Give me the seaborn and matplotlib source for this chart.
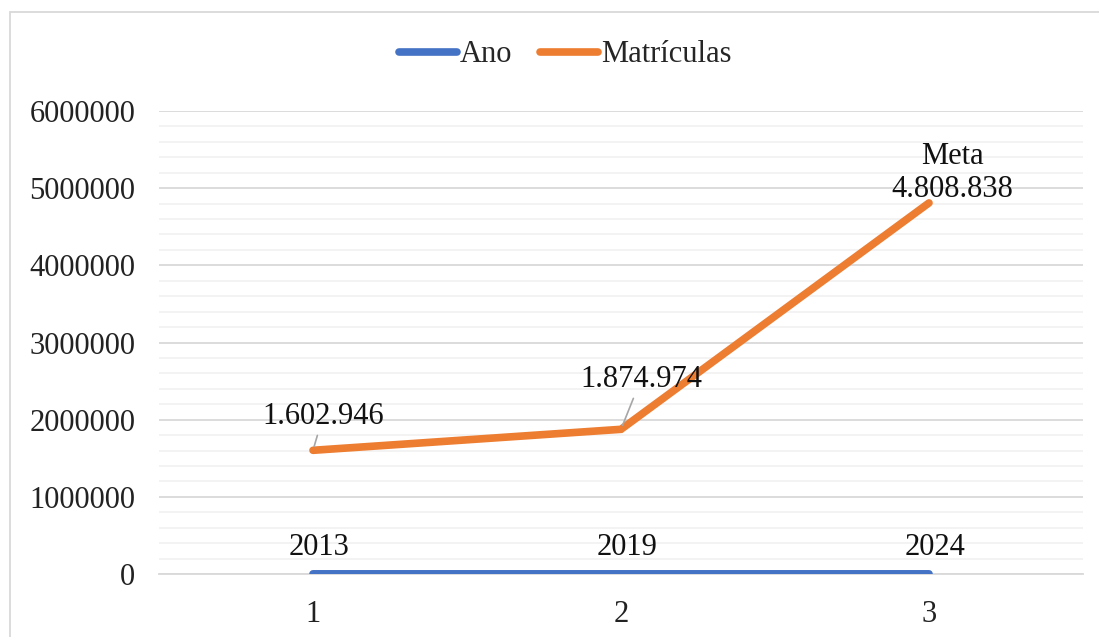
import numpy as np
import pandas as pd
import matplotlib
matplotlib.use("Agg")
import matplotlib.pyplot as plt
from matplotlib.lines import Line2D
from matplotlib.patches import Rectangle
from matplotlib.ticker import MultipleLocator, FuncFormatter
import seaborn as sns

sns.set_theme(style="white")
plt.rcParams['font.family'] = ['Liberation Serif', 'DejaVu Serif']

# dados
pontos = [1, 2, 3]
ano = [2013, 2019, 2024]
matriculas = [1602946, 1874974, 4808838]
rotulos_matriculas = ["1.602.946", "1.874.974", "Meta\n4.808.838"]
series = ["Ano", "Matrículas"]
cores = ["#4472C4", "#ED7D31"]

df = pd.DataFrame({
    "ponto": pontos * 2,
    "valor": ano + matriculas,
    "serie": [series[0]] * 3 + [series[1]] * 3,
})

FS = 22

fig = plt.figure(figsize=(10.99, 6.37), dpi=100)
ax = fig.add_axes([159 / 1099, 63 / 637, 924 / 1099, 463 / 637])

sns.lineplot(data=df, x="ponto", y="valor", hue="serie", palette=cores,
             linewidth=5.5, ax=ax, legend=False, zorder=3)
for ln in ax.lines:
    ln.set_solid_capstyle("round")
    ln.set_solid_joinstyle("miter")

ax.set_xlim(0.5, 3.5)
ax.set_ylim(0, 6000000)
ax.set_xticks(pontos)
ax.yaxis.set_major_locator(MultipleLocator(1000000))
ax.yaxis.set_minor_locator(MultipleLocator(200000))
ax.yaxis.set_major_formatter(FuncFormatter(lambda v, p: f"{int(v)}"))
ax.grid(which="major", axis="y", color="#D9D9D9", linewidth=1.3, zorder=0)
ax.grid(which="minor", axis="y", color="#F2F2F2", linewidth=1.3, zorder=0)
ax.grid(which="both", axis="x", visible=False)
ax.set_axisbelow(True)
for s in ["top", "right", "left"]:
    ax.spines[s].set_visible(False)
ax.spines["bottom"].set_color("#D9D9D9")
ax.spines["bottom"].set_linewidth(1.3)
ax.tick_params(axis="both", which="both", length=0, labelsize=FS, colors="#222222")
ax.tick_params(axis="x", pad=19)
ax.tick_params(axis="y", pad=17)
ax.set_xlabel("")
ax.set_ylabel("")

# rótulos de dados
for x, v in zip(pontos, ano):
    ax.annotate(str(v), (x, v), xytext=(6, 26), textcoords="offset pixels",
                ha="center", va="center", fontsize=FS, color="#111111")

offs = [(10, 34), (20, 50), (23, 30)]
for i, (x, v, t) in enumerate(zip(pontos, matriculas, rotulos_matriculas)):
    arrow = None
    if i < 2:
        arrow = dict(arrowstyle="-", color="#A6A6A6", lw=1.2, shrinkA=1, shrinkB=3)
    ax.annotate(t, (x, v), xytext=offs[i], textcoords="offset pixels",
                ha="center", va="center", fontsize=FS, color="#111111",
                linespacing=1.15, arrowprops=arrow)

# legenda
handles = [Line2D([0], [0], color=c, lw=5.5, solid_capstyle="round") for c in cores]
fig.legend(handles, series, loc="center", bbox_to_anchor=(0.514, 1 - 55 / 637),
           ncol=2, frameon=False, fontsize=FS, handlelength=1.9,
           handletextpad=0.1, columnspacing=0.9)

# borda do gráfico
fig.add_artist(Rectangle((10 / 1099, -0.1), 1.2, 1 - 12 / 637 + 0.1,
                         transform=fig.transFigure, fill=False,
                         edgecolor="#D9D9D9", linewidth=1.3))

fig.savefig("out.png", dpi=100)
